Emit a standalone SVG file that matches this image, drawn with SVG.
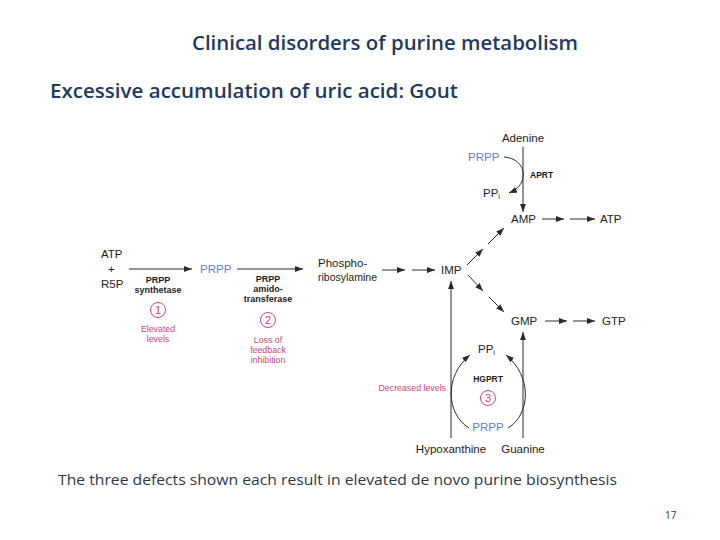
<svg xmlns="http://www.w3.org/2000/svg" width="720" height="540" viewBox="0 0 720 540">
<defs>
<marker id="ah" markerUnits="userSpaceOnUse" markerWidth="9" markerHeight="7" refX="8" refY="3" orient="auto">
<path d="M0,0 L8,3 L0,6 z" fill="#2a2a2a"/>
</marker>
<style>
.t{font-family:"Liberation Sans",Arial,sans-serif;font-size:11.5px;fill:#1c1c1c}
.b{font-family:"Liberation Sans",Arial,sans-serif;font-size:8.5px;font-weight:bold;fill:#1c1c1c}
.b9{font-family:"Liberation Sans",Arial,sans-serif;font-size:9px;font-weight:bold;fill:#1c1c1c}
.p{font-family:"Liberation Sans",Arial,sans-serif;font-size:8.8px;fill:#d0457a}
.bl{font-family:"Liberation Sans",Arial,sans-serif;font-size:11.5px;fill:#5b84c9}
.h{font-family:"Open Sans",Lato,sans-serif;font-weight:600;fill:#1f3a5f}
.f{font-family:"Open Sans",Lato,sans-serif;fill:#2b3848}
.ar{stroke:#2a2a2a;stroke-width:1;fill:none;marker-end:url(#ah)}
.c{stroke:#d0457a;stroke-width:1;fill:none}
.cn{font-family:"Liberation Sans",Arial,sans-serif;font-size:11px;fill:#d0457a;text-anchor:middle}
</style>
</defs>
<rect width="720" height="540" fill="#fff"/>

<g id="titles">
<text class="h" x="192" y="50" font-size="20" textLength="386" lengthAdjust="spacingAndGlyphs">Clinical disorders of purine metabolism</text>
<text class="h" x="50" y="98" font-size="20" textLength="408" lengthAdjust="spacingAndGlyphs">Excessive accumulation of uric acid: Gout</text>
<text class="f" x="58" y="485" font-size="15" textLength="559" lengthAdjust="spacingAndGlyphs">The three defects shown each result in elevated de novo purine biosynthesis</text>
<text class="f" x="665" y="519" font-size="10" fill="#555">17</text>
</g>

<g id="connectors">
<line class="ar" x1="129" y1="269" x2="192" y2="269"/>
<line class="ar" x1="237" y1="269" x2="303" y2="269"/>
<line class="ar" x1="382" y1="270" x2="405" y2="270"/>
<line class="ar" x1="412" y1="270" x2="435" y2="270"/>
<line class="ar" x1="467" y1="265" x2="483" y2="249"/>
<line class="ar" x1="488" y1="244" x2="504" y2="228"/>
<line class="ar" x1="468" y1="275" x2="483" y2="291"/>
<line class="ar" x1="489" y1="297" x2="504" y2="312"/>
<line class="ar" x1="542" y1="219" x2="564" y2="219"/>
<line class="ar" x1="570" y1="219" x2="595" y2="219"/>
<line class="ar" x1="545" y1="321" x2="567" y2="321"/>
<line class="ar" x1="573" y1="321" x2="595" y2="321"/>
<line class="ar" x1="523" y1="147" x2="523" y2="212"/>
<path class="ar" d="M504,157 C518,158 525,168 523,178 C521,186 516,190 509,193"/>
<line class="ar" x1="451" y1="438" x2="451" y2="281"/>
<line class="ar" x1="523" y1="438" x2="523" y2="332"/>
<path class="ar" d="M469,428 C446,414 444,376 470,355"/>
<path class="ar" d="M508,428 C531,414 532,376 506,355"/>
</g>

<g id="n-atp-r5p">
<text class="t" x="101" y="258">ATP</text>
<text class="t" x="108" y="273">+</text>
<text class="t" x="101" y="288">R5P</text>
</g>
<g id="n-prpp-synthetase">
<text class="b9" x="158" y="283" text-anchor="middle">PRPP</text>
<text class="b9" x="158" y="293" text-anchor="middle">synthetase</text>
<circle class="c" cx="158" cy="310" r="7.5"/>
<text class="cn" x="158" y="314">1</text>
<text class="p" x="158" y="332" text-anchor="middle">Elevated</text>
<text class="p" x="158" y="342" text-anchor="middle">levels</text>
</g>
<g id="n-prpp1">
<text class="bl" x="200" y="273">PRPP</text>
</g>
<g id="n-amidotransferase">
<text class="b9" x="268" y="282" text-anchor="middle">PRPP</text>
<text class="b9" x="268" y="292" text-anchor="middle">amido-</text>
<text class="b9" x="268" y="302" text-anchor="middle">transferase</text>
<circle class="c" cx="268" cy="320" r="7.5"/>
<text class="cn" x="268" y="324">2</text>
<text class="p" x="268" y="343" text-anchor="middle">Loss of</text>
<text class="p" x="268" y="353" text-anchor="middle">feedback</text>
<text class="p" x="268" y="363" text-anchor="middle">inhibition</text>
</g>
<g id="n-phosphoribosylamine">
<text class="t" x="318" y="267">Phospho-</text>
<text class="t" x="318" y="281" textLength="59" lengthAdjust="spacingAndGlyphs">ribosylamine</text>
</g>
<g id="n-imp">
<text class="t" x="441" y="274">IMP</text>
</g>
<g id="n-adenine">
<text class="t" x="523" y="142" text-anchor="middle">Adenine</text>
</g>
<g id="n-prpp2">
<text class="bl" x="468" y="161">PRPP</text>
</g>
<g id="n-aprt">
<text class="b" x="530" y="178">APRT</text>
</g>
<g id="n-ppi1">
<text class="t" x="483" y="197">PP<tspan font-size="7.5" dy="2">i</tspan></text>
</g>
<g id="n-amp">
<text class="t" x="511" y="223">AMP</text>
</g>
<g id="n-atp">
<text class="t" x="600" y="223">ATP</text>
</g>
<g id="n-gmp">
<text class="t" x="511" y="325">GMP</text>
</g>
<g id="n-gtp">
<text class="t" x="602" y="325">GTP</text>
</g>
<g id="n-ppi2">
<text class="t" x="478" y="353">PP<tspan font-size="7.5" dy="2">i</tspan></text>
</g>
<g id="n-hgprt">
<text class="b" x="488" y="382" text-anchor="middle">HGPRT</text>
<circle class="c" cx="488" cy="398" r="7.5"/>
<text class="cn" x="488" y="402">3</text>
</g>
<g id="n-decreased">
<text class="p" x="446" y="391" text-anchor="end">Decreased levels</text>
</g>
<g id="n-prpp3">
<text class="bl" x="488" y="431" text-anchor="middle">PRPP</text>
</g>
<g id="n-hypoxanthine">
<text class="t" x="451" y="453" text-anchor="middle">Hypoxanthine</text>
</g>
<g id="n-guanine">
<text class="t" x="523" y="453" text-anchor="middle">Guanine</text>
</g>
</svg>
